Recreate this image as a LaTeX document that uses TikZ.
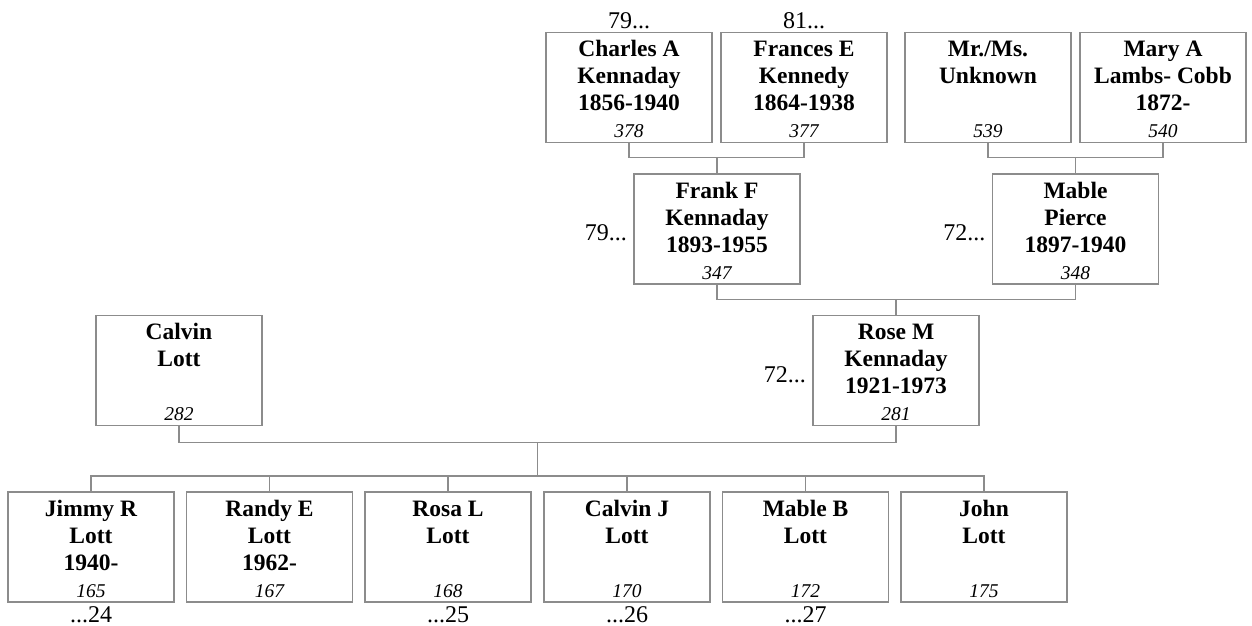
\documentclass[tikz,border=0pt]{standalone}
\usepackage{fontspec}
\setmainfont{Liberation Serif}
\definecolor{lc}{RGB}{140,140,140}
\tikzset{
  pbox/.style={draw=lc, line width=0.7pt, rectangle, minimum width=83pt, minimum height=55pt, inner sep=0pt},
  ptext/.style={anchor=base, inner sep=0pt, font=\fontsize{11.75pt}{13.5pt}\selectfont\bfseries},
  pnum/.style={anchor=base, inner sep=0pt, font=\fontsize{9.75pt}{11pt}\selectfont\itshape},
  plab/.style={inner sep=0pt, font=\fontsize{12pt}{14pt}\selectfont},
  conn/.style={draw=lc, line width=0.7pt}
}
\newcommand{\person}[4]{%
  \node[pbox] (#1) at (#2) {};
  \node[ptext] (#1-t) at ([yshift=-12.5pt]#1.north) {\parbox[t]{82pt}{\centering #3}};
  \node[pnum] (#1-n) at ([yshift=2.75pt]#1.south) {#4};
}
\begin{document}
\begin{tikzpicture}[x=0.5pt,y=-0.5pt]
\useasboundingbox (0,0) rectangle (1252,626);
% top row
\person{charles}{629,87.5}{Charles A\\Kennaday\\1856-1940}{378}
\person{frances}{804,87.5}{Frances E\\Kennedy\\1864-1938}{377}
\person{mr}{988,87.5}{Mr./Ms.\\Unknown}{539}
\person{mary}{1163,87.5}{Mary A\\Lambs- Cobb\\1872-}{540}
% second row
\person{frank}{717,229}{Frank F\\Kennaday\\1893-1955}{347}
\person{mable}{1075.5,229}{Mable\\Pierce\\1897-1940}{348}
% third row
\person{calvin}{179,370.5}{Calvin\\Lott}{282}
\person{rose}{896,370.5}{Rose M\\Kennaday\\1921-1973}{281}
% children
\person{jimmy}{91,547}{Jimmy R\\Lott\\1940-}{165}
\person{randy}{269.5,547}{Randy E\\Lott\\1962-}{167}
\person{rosa}{448,547}{Rosa L\\Lott}{168}
\person{calvinj}{627,547}{Calvin J\\Lott}{170}
\person{mableb}{805.5,547}{Mable B\\Lott}{172}
\person{john}{984,547}{John\\Lott}{175}
% labels
\node[plab, anchor=base] (l1) at ([yshift=1.5pt]charles.north) {79...};
\node[plab, anchor=base] (l2) at ([yshift=1.5pt]frances.north) {81...};
\node[plab, anchor=base east] (l3) at ([xshift=-3pt,yshift=-5.5pt]frank.west) {79...};
\node[plab, anchor=base east] (l4) at ([xshift=-3pt,yshift=-5.5pt]mable.west) {72...};
\node[plab, anchor=base east] (l5) at ([xshift=-3pt,yshift=-6pt]rose.west) {72...};
\node[plab, anchor=base] (l6) at ([yshift=-10pt]jimmy.south) {...24};
\node[plab, anchor=base] (l7) at ([yshift=-10pt]rosa.south) {...25};
\node[plab, anchor=base] (l8) at ([yshift=-10pt]calvinj.south) {...26};
\node[plab, anchor=base] (l9) at ([yshift=-10pt]mableb.south) {...27};
% connectors
\draw[conn] (charles.south) -- ++(0,14) coordinate (a1) -| (frances.south);
\draw[conn] (frank.north) -- (frank.north |- a1);
\draw[conn] (mr.south) -- ++(0,14) coordinate (a2) -| (mary.south);
\draw[conn] (mable.north) -- (mable.north |- a2);
\draw[conn] (frank.south) -- ++(0,15) coordinate (a3) -| (mable.south);
\draw[conn] (rose.north) -- (rose.north |- a3);
\draw[conn] (calvin.south) -- ++(0,16) coordinate (a4) -| (rose.south);
\coordinate (fam) at (537.5,476);
\draw[conn] (fam |- a4) -- (fam);
\draw[conn] (jimmy.north) -- (jimmy.north |- fam) -- (john.north |- fam) -- (john.north);
\foreach \c in {randy,rosa,calvinj,mableb}{
  \draw[conn] (\c.north) -- (\c.north |- fam);
}
\end{tikzpicture}
\end{document}
